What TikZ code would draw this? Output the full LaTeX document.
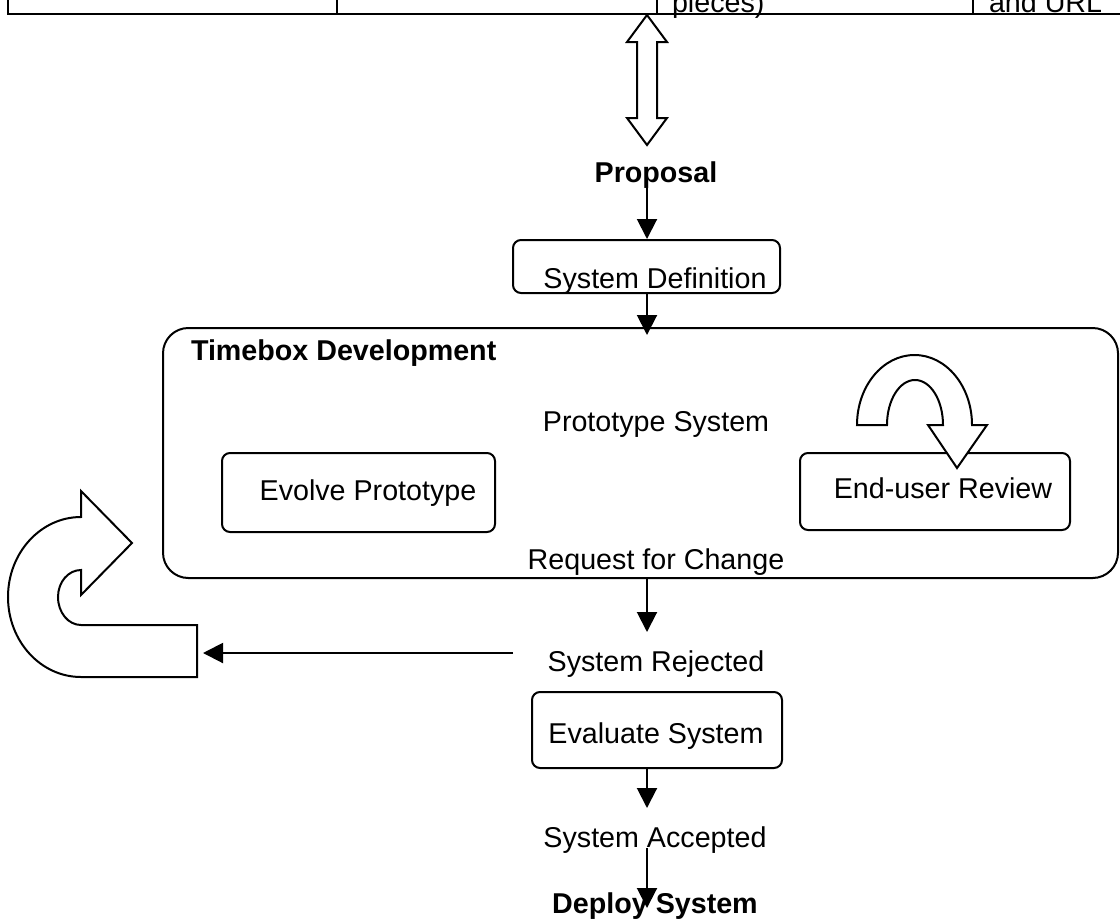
\documentclass[tikz,border=0pt]{standalone}
\usepackage{fontspec}
\setmainfont{Liberation Sans}
\usetikzlibrary{arrows.meta,calc}
\begin{document}
\begin{tikzpicture}[x=0.75pt,y=-0.75pt,
  line width=1.5pt,
  every node/.style={inner sep=0pt, font=\fontsize{21.5}{26}\selectfont},
  lbl/.style={anchor=base},
  boldlbl/.style={anchor=base, font=\fontsize{21.5}{26}\selectfont\bfseries},
  boxed/.style={draw, rounded corners=6pt, line width=1.5pt},
  arr/.style={-{Triangle[width=15pt,length=15pt]}, line width=1.5pt},
  blockarrow/.style={draw, fill=white, line width=1.5pt, line join=miter}
]
\fill[white] (0,0) rectangle (1120,921);
\useasboundingbox (0,0) rectangle (1120,921);
\clip (0,0) rectangle (1120,921);

% top table (cut off)
\draw (8,-5) -- (8,14) -- (1125,14);
\draw (337,-5) -- (337,14);
\draw (657,-5) -- (657,14);
\draw (973,-5) -- (973,14);
\node[anchor=base west] (pieces) at (671,12.5) {pieces)};
\node[anchor=base west] (url) at (988,12.5) {and URL};

% double block arrow
\draw[blockarrow] (647,15) -- (627,42) -- (637,42) -- (637,118) -- (627,118) -- (647,145)
  -- (667,118) -- (657,118) -- (657,42) -- (667,42) -- cycle;

\coordinate (ax) at (647,0);

% nodes
\node[boldlbl] (proposal) at (656,182) {Proposal};
\node[boxed, minimum width=200.25pt, minimum height=39.75pt] (sysdef) at (646.5,266.5) {};
\node[lbl] (sysdeftxt) at (655,288) {System Definition};

\node[boxed, rounded corners=19pt, minimum width=716.25pt, minimum height=187.5pt] (timebox) at (640.5,453) {};
\node[anchor=base west, font=\fontsize{21.5}{26}\selectfont\bfseries] (tbtitle) at (190,360) {Timebox Development};
\node[lbl] (proto) at (656,431) {Prototype System};

\node[boxed, minimum width=204.75pt, minimum height=59.25pt] (evolve) at (358.5,492.5) {};
\node[lbl] (evolvetxt) at (368,500) {Evolve Prototype};

\node[boxed, minimum width=202.5pt, minimum height=57.75pt] (review) at (935,491.5) {};
\node[lbl] (reviewtxt) at (943,498) {End-user Review};

\node[lbl] (rfc) at (656,569) {Request for Change};
\node[lbl] (sysrej) at (656,671) {System Rejected};

\node[boxed, minimum width=187.5pt, minimum height=57pt] (evalsys) at (657,730) {};
\node[lbl] (evaltxt) at (656,743) {Evaluate System};

\node[lbl] (sysacc) at (655,847) {System Accepted};
\node[boldlbl] (deploy) at (655,913) {Deploy System};

% self-loop block arrow on End-user Review
\draw[blockarrow] (857,425) .. controls (857,386.3) and (882.7,355) .. (914.5,355)
  .. controls (946.3,355) and (972,386.3) .. (972,425)
  -- (987,425) -- (957,468) -- (928,425) -- (943,425)
  .. controls (943,400.1) and (930.5,380) .. (915,380)
  .. controls (899.5,380) and (887,400.1) .. (887,425) -- cycle;

% big loop block arrow on the left
\draw[blockarrow] (81,517) .. controls (40.7,517) and (8,552.8) .. (8,597)
  .. controls (8,641.2) and (40.7,677) .. (81,677) -- (197,677) -- (197,625) -- (81,625)
  .. controls (68.3,625) and (58,612.5) .. (58,597)
  .. controls (58,582) and (68.3,570) .. (81,570)
  -- (81,595) -- (132,543) -- (81,491) -- cycle;

% connectors
\draw[arr] ($(proposal.base -| ax)+(0,5)$) -- (sysdef.north -| ax);
\draw[arr] (sysdef.south -| ax) -- ($(timebox.north -| ax)+(0,8)$);
\draw[arr] (timebox.south -| ax) -- ($(sysrej.base -| ax)+(0,-39)$);
\coordinate (rejstart) at (513,653);
\coordinate (loopin) at (203,653);
\draw[arr] (rejstart) -- (loopin);
\draw[arr] (evalsys.south -| ax) -- ($(sysacc.base -| ax)+(0,-39)$);
\draw[arr] ($(sysacc.base -| ax)+(0,1)$) -- ($(deploy.base -| ax)+(0,-5)$);
\end{tikzpicture}
\end{document}
